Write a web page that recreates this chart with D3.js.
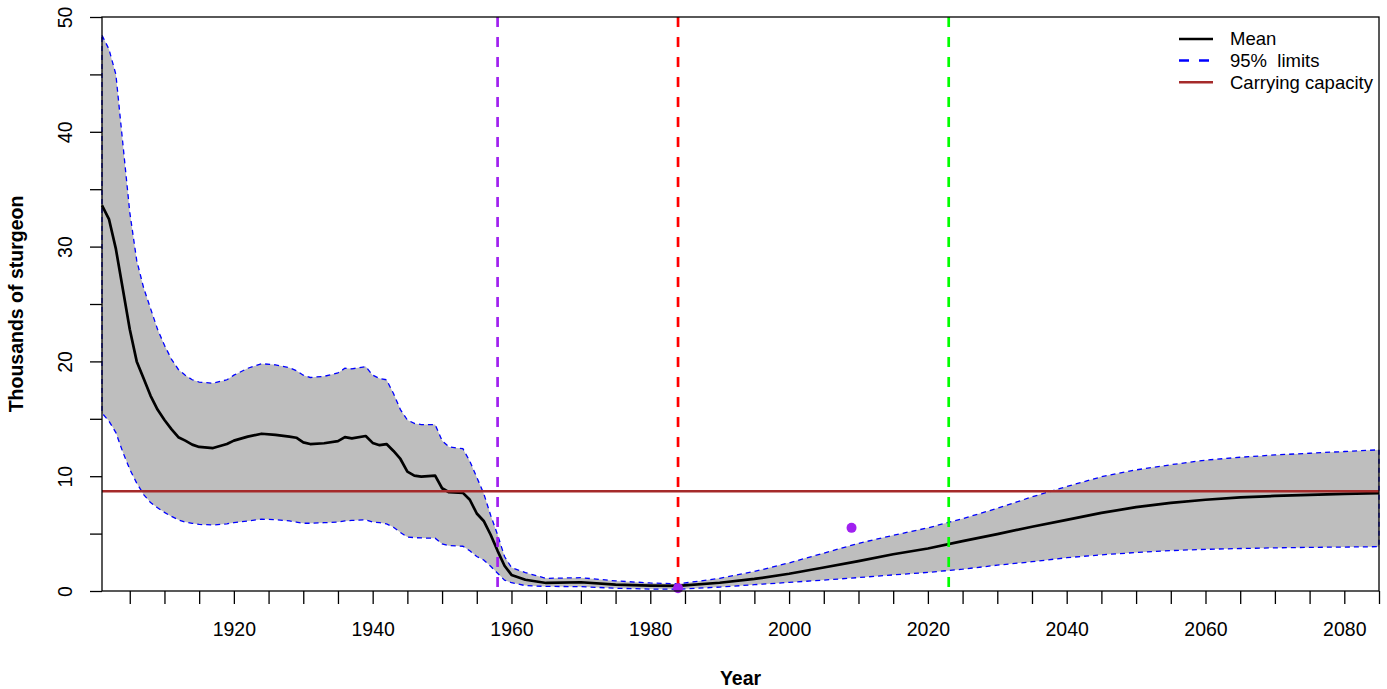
<!DOCTYPE html>
<html>
<head>
<meta charset="utf-8">
<script src="https://cdn.jsdelivr.net/npm/d3@7"></script>
<style>
  body { margin: 0; background: #fff; }
  svg { display: block; font-family: "Liberation Sans", Arial, sans-serif; }
</style>
</head>
<body>
<div id="chart"></div>
<script>
// sturgeon abundance (thousands), mean and 95% limits
var years = [1901,1902,1903,1904,1905,1906,1907,1908,1909,1910,1911,1912,1913,1914,1915,1917,1919,1920,
  1922,1924,1926,1928,1929,1930,1931,1933,1935,1936,1937,1939,1940,1941,1942,1943,1944,1945,1946,1947,
  1949,1950,1951,1953,1954,1955,1956,1957,1958,1959,1960,1962,1965,1970,1975,1980,1984,1990,1995,2000,
  2005,2010,2015,2020,2025,2030,2035,2040,2045,2050,2055,2060,2065,2070,2075,2080,2085];

var mean = [33.6,32.4,29.8,26.3,22.8,20.0,18.5,17.0,15.8,14.9,14.1,13.4,13.1,12.75,12.55,12.45,12.8,13.1,
  13.45,13.7,13.6,13.45,13.35,12.95,12.8,12.87,13.05,13.4,13.3,13.5,12.9,12.7,12.8,12.2,11.5,10.4,10.05,9.96,
  10.05,8.95,8.6,8.55,7.95,6.75,6.1,4.9,3.5,2.2,1.4,0.98,0.7,0.76,0.55,0.47,0.44,0.72,1.05,1.5,
  2.05,2.6,3.2,3.7,4.35,4.95,5.6,6.2,6.8,7.3,7.68,7.95,8.15,8.28,8.38,8.46,8.52];

var upper = [48.4,47.2,45.0,39.0,33.0,28.8,26.4,24.6,22.8,21.4,20.2,19.3,18.8,18.4,18.2,18.1,18.4,18.8,
  19.4,19.8,19.7,19.45,19.2,18.8,18.6,18.7,19.0,19.4,19.35,19.55,18.8,18.5,18.4,17.2,15.8,14.9,14.6,14.5,
  14.5,13.1,12.55,12.4,11.3,9.9,8.5,6.6,4.9,3.0,2.05,1.6,1.1,1.16,0.88,0.7,0.62,1.1,1.7,2.45,
  3.3,4.15,4.85,5.5,6.3,7.2,8.2,9.1,9.95,10.55,11.0,11.4,11.65,11.85,12.0,12.15,12.3];

var lower = [15.5,14.8,13.8,12.1,10.6,9.4,8.4,7.7,7.25,6.85,6.5,6.2,6.0,5.9,5.8,5.75,5.85,5.95,
  6.1,6.25,6.22,6.1,6.0,5.9,5.9,5.95,6.0,6.1,6.15,6.2,6.0,5.95,5.85,5.55,5.1,4.7,4.65,4.62,
  4.6,4.1,3.95,3.9,3.5,3.0,2.7,2.15,1.55,0.95,0.72,0.47,0.4,0.38,0.24,0.17,0.15,0.34,0.55,0.75,
  0.95,1.17,1.4,1.62,1.9,2.25,2.55,2.9,3.15,3.35,3.52,3.63,3.7,3.76,3.8,3.83,3.86];

var carryingCapacity = 8.68;

// reference years (vertical lines) and observed estimates (points)
var refYears = [1958, 1984, 2023];
var refColors = ["#A020F0", "#FF0000", "#00FF00"];
var obsYears = [1984, 2009];
var obsValues = [0.25, 5.5];

var legendLabels = ["Mean", "95%\u00a0 limits", "Carrying capacity"];

// dimensions
var width = 1387, height = 689;
var margin = {top: 17, right: 8, bottom: 98, left: 102};

var x = d3.scaleLinear().domain([1901, 2085]).range([margin.left, width - margin.right]);
var y = d3.scaleLinear().domain([0, 50]).range([height - margin.bottom, margin.top]);

var svg = d3.select("#chart")
  .append("svg")
    .attr("width", width)
    .attr("height", height);

var rows = years.map(function (d, i) {
  return {year: d, mean: mean[i], lo: lower[i], hi: upper[i]};
});

// shaded 95% band with dashed blue border
var band = rows.map(function (d) { return [x(d.year), y(d.hi)]; })
  .concat(rows.slice().reverse().map(function (d) { return [x(d.year), y(d.lo)]; }));

svg.append("path")
  .attr("d", "M" + band.join("L") + "Z")
  .attr("fill", "#BEBEBE")
  .attr("stroke", "#0000FF")
  .attr("stroke-width", 1.3)
  .attr("stroke-dasharray", "5,4");

// mean line
svg.append("path")
  .datum(rows)
  .attr("fill", "none")
  .attr("stroke", "#000")
  .attr("stroke-width", 2.7)
  .attr("stroke-linejoin", "round")
  .attr("d", d3.line().x(function (d) { return x(d.year); }).y(function (d) { return y(d.mean); }));

// carrying capacity
svg.append("line")
  .attr("x1", x(1901)).attr("x2", x(2085))
  .attr("y1", y(carryingCapacity)).attr("y2", y(carryingCapacity))
  .attr("stroke", "#A52A2A")
  .attr("stroke-width", 2.5);

// vertical reference lines
svg.selectAll(".vline")
  .data(refYears)
  .enter().append("line")
    .attr("class", "vline")
    .attr("x1", function (d) { return x(d); })
    .attr("x2", function (d) { return x(d); })
    .attr("y1", y(50)).attr("y2", y(0))
    .attr("stroke", function (d, i) { return refColors[i]; })
    .attr("stroke-width", 2.7)
    .attr("stroke-dasharray", "10,10");

// observed points
svg.selectAll(".obs")
  .data(obsYears)
  .enter().append("circle")
    .attr("class", "obs")
    .attr("cx", function (d) { return x(d); })
    .attr("cy", function (d, i) { return y(obsValues[i]); })
    .attr("r", 5)
    .attr("fill", "#A020F0");

// box
svg.append("rect")
  .attr("x", x(1901)).attr("y", y(50))
  .attr("width", x(2085) - x(1901))
  .attr("height", y(0) - y(50))
  .attr("fill", "none")
  .attr("stroke", "#000")
  .attr("stroke-width", 1.3);

// axes
var xAxis = svg.append("g")
  .attr("transform", "translate(0," + y(0) + ")")
  .call(d3.axisBottom(x)
    .tickValues(d3.range(1905, 2086, 5))
    .tickFormat(function (d) { return d % 20 === 0 ? d : ""; })
    .tickSize(13)
    .tickSizeOuter(0));

var yAxis = svg.append("g")
  .attr("transform", "translate(" + x(1901) + ",0)")
  .call(d3.axisLeft(y)
    .tickValues(d3.range(0, 51, 5))
    .tickFormat(function (d) { return d % 10 === 0 ? d : ""; })
    .tickSize(12)
    .tickSizeOuter(0));

[xAxis, yAxis].forEach(function (g) {
  g.select(".domain").remove();
  g.selectAll(".tick line").attr("stroke", "#000").attr("stroke-width", 1.3);
  g.selectAll(".tick text")
    .attr("fill", "#000")
    .attr("font-size", "19.5px")
    .attr("font-family", "Liberation Sans, Arial, sans-serif");
});

xAxis.selectAll(".tick text")
  .attr("y", 38)
  .attr("dy", "0.35em");

yAxis.selectAll(".tick text")
  .attr("x", 0)
  .attr("dy", "0.35em")
  .attr("text-anchor", "middle")
  .attr("transform", "translate(-37,0) rotate(-90)");

// axis titles
svg.append("text")
  .attr("x", (x(1901) + x(2085)) / 2)
  .attr("y", 678)
  .attr("dy", "0.35em")
  .attr("text-anchor", "middle")
  .attr("font-size", "19.5px")
  .attr("font-weight", "bold")
  .text("Year");

svg.append("text")
  .attr("transform", "translate(16," + (y(0) + y(50)) / 2 + ") rotate(-90)")
  .attr("dy", "0.35em")
  .attr("text-anchor", "middle")
  .attr("font-size", "19.5px")
  .attr("font-weight", "bold")
  .text("Thousands of sturgeon");

// legend
var legendStyles = [
  {color: "#000", dash: null},
  {color: "#0000FF", dash: "10,10"},
  {color: "#A52A2A", dash: null}
];

var legend = svg.append("g")
  .attr("transform", "translate(1179,39)");

legend.selectAll("line")
  .data(legendLabels)
  .enter().append("line")
    .attr("x1", 0).attr("x2", 34)
    .attr("y1", function (d, i) { return i * 21.6; })
    .attr("y2", function (d, i) { return i * 21.6; })
    .attr("stroke", function (d, i) { return legendStyles[i].color; })
    .attr("stroke-width", 2.5)
    .attr("stroke-dasharray", function (d, i) { return legendStyles[i].dash; });

legend.selectAll("text")
  .data(legendLabels)
  .enter().append("text")
    .attr("x", 51)
    .attr("y", function (d, i) { return i * 21.6; })
    .attr("dy", "0.35em")
    .attr("font-size", "18.5px")
    .text(function (d) { return d; });
</script>
</body>
</html>
